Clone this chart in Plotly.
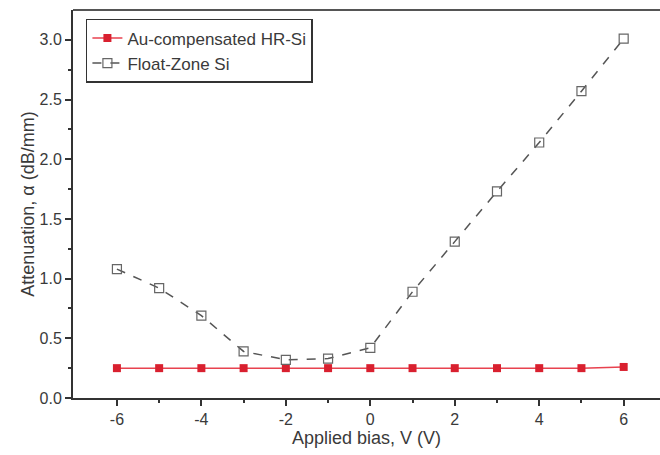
import plotly.graph_objects as go

bias = [-6, -5, -4, -3, -2, -1, 0, 1, 2, 3, 4, 5, 6]
au_hr_si = [0.25, 0.25, 0.25, 0.25, 0.25, 0.25, 0.25, 0.25, 0.25, 0.25, 0.25, 0.25, 0.26]
fz_si = [1.08, 0.92, 0.69, 0.39, 0.32, 0.33, 0.42, 0.89, 1.31, 1.73, 2.14, 2.57, 3.01]
x_ticks = [-6, -4, -2, 0, 2, 4, 6]
x_labels = ["-6", "-4", "-2", "0", "2", "4", "6"]
y_ticks = [0, 0.5, 1.0, 1.5, 2.0, 2.5, 3.0]
y_labels = ["0.0", "0.5", "1.0", "1.5", "2.0", "2.5", "3.0"]

fig = go.Figure()
fig.add_trace(go.Scatter(
    x=bias, y=au_hr_si, name="Au-compensated HR-Si", mode="lines+markers",
    line=dict(color="#e8424f", width=1.5),
    marker=dict(symbol="square", size=8, color="#d9202f"),
))
fig.add_trace(go.Scatter(
    x=bias, y=fz_si, name="Float-Zone Si", mode="lines+markers",
    line=dict(color="#555555", width=1.5, dash="dash"),
    marker=dict(symbol="square-open", size=9, color="#666666", line=dict(width=1.2)),
))

font = "Liberation Sans, Arial, sans-serif"
fig.update_layout(
    width=660, height=455,
    margin=dict(l=73, r=0, t=10, b=57),
    paper_bgcolor="white", plot_bgcolor="white",
    font=dict(family=font, size=16, color="#3a3a3a"),
    showlegend=True,
    legend=dict(x=0.022, y=0.977, xanchor="left", yanchor="top",
                bordercolor="#333333", borderwidth=1.5, bgcolor="white",
                font=dict(size=17), tracegroupgap=0),
    xaxis=dict(range=[-7.04, 6.86], tickvals=x_ticks, ticktext=x_labels,
               ticks="outside", ticklen=6, tickwidth=1.5, tickcolor="#333333",
               showline=True, linecolor="#333333", linewidth=2, mirror=False,
               showgrid=False, zeroline=False,
               minor=dict(tickvals=[-5, -3, -1, 1, 3, 5], ticks="outside", ticklen=3, tickcolor="#333333"),
               title=dict(text="Applied bias, V (V)", font=dict(size=18), standoff=3)),
    yaxis=dict(range=[0, 3.25], tickvals=y_ticks, ticktext=y_labels,
               ticks="outside", ticklen=6, tickwidth=1.5, tickcolor="#333333",
               showline=True, linecolor="#333333", linewidth=2,
               showgrid=False, zeroline=False,
               minor=dict(tickvals=[0.25, 0.75, 1.25, 1.75, 2.25, 2.75], ticks="outside", ticklen=3, tickcolor="#333333"),
               title=dict(text="Attenuation, α (dB/mm)", font=dict(size=18), standoff=0)),
    shapes=[dict(type="line", xref="paper", yref="paper", x0=0, x1=1, y0=1, y1=1,
                 line=dict(color="#555555", width=2))],
)
fig.write_html("out.html")
